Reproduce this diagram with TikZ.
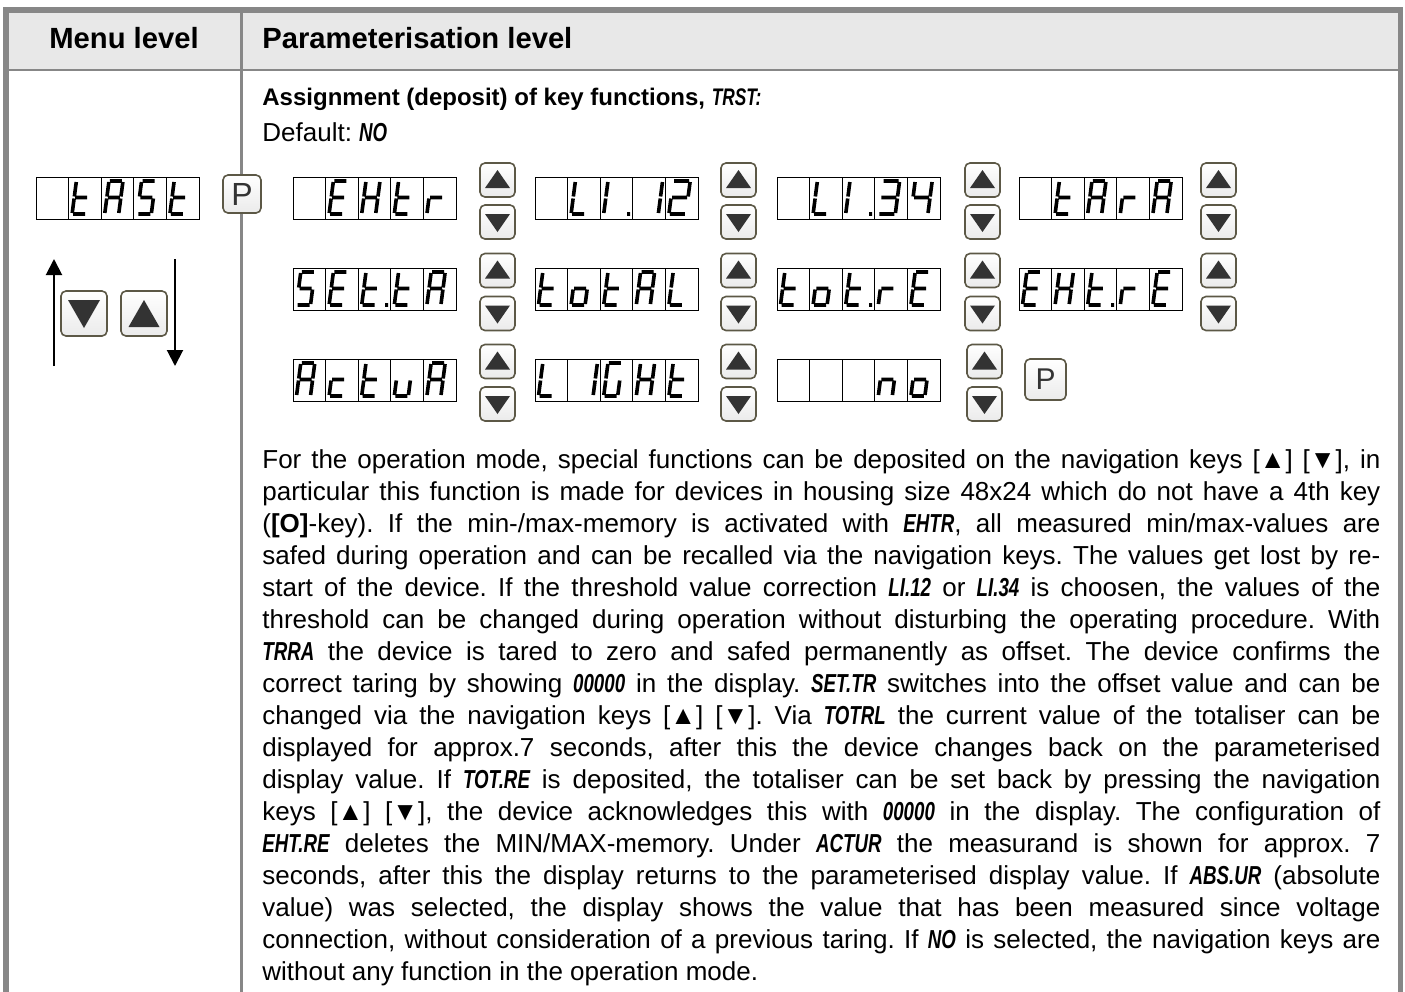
\documentclass[tikz,border=0pt]{standalone}
\usepackage{fontspec}
\setmainfont{Liberation Sans}
\newfontfamily\dispfont[FakeStretch=0.72]{Liberation Sans}
\usetikzlibrary{arrows.meta}

\definecolor{framegray}{RGB}{135,135,135}
\definecolor{headfill}{RGB}{232,232,232}
\definecolor{keyedge}{RGB}{92,88,70}
\definecolor{keytri}{RGB}{51,51,51}

\newcommand{\dsp}[1]{{\dispfont\bfseries\itshape #1}}
\def\segw{14}

\tikzset{
  headtext/.style={font=\fontsize{14.6}{17}\selectfont\bfseries, inner sep=0},
  bodytext/.style={text width=559pt, align=justify, inner sep=0,
    font=\fontsize{13}{16}\selectfont},
  disp/.style={draw, line width=0.5pt, fill=white, inner sep=0,
    minimum width=81.5pt, minimum height=21pt},
  dispedge/.style={line width=0.5pt},
  keybox/.style={draw=keyedge, line width=0.8pt, rounded corners=2.5pt,
    top color=white, bottom color=black!8, inner sep=0,
    minimum width=17.5pt, minimum height=17pt},
  navarrow/.style={line width=1pt, -{Triangle[width=8pt,length=8pt]}},
  % seven segment parts, glyph origin = lower left
  segline/.style={line width=1.8pt},
  sw/.code={\def\segw{#1}},
  seg a/.style={insert path={(1,-33) -- (\segw-1,-33)}},
  seg b/.style={insert path={(\segw,-32) -- (\segw,-17.5)}},
  seg c/.style={insert path={(\segw,-15.5) -- (\segw,-1)}},
  seg d/.style={insert path={(1,0) -- (\segw-1,0)}},
  seg e/.style={insert path={(0,-1) -- (0,-15.5)}},
  seg f/.style={insert path={(0,-17.5) -- (0,-32)}},
  seg g/.style={insert path={(1,-16.5) -- (\segw-1,-16.5)}},
  dp/.style={insert path={(23.5,0) -- (26.5,0)}},
  % glyphs
  sg blank/.style={},
  sg t/.style={seg d,seg e,seg f,seg g},
  sg tp/.style={sg t,dp},
  sg A/.style={seg a,seg b,seg c,seg e,seg f,seg g},
  sg S/.style={seg a,seg f,seg g,seg c,seg d},
  sg E/.style={seg a,seg d,seg e,seg f,seg g},
  sg H/.style={seg b,seg c,seg e,seg f,seg g},
  sg r/.style={seg e,seg g},
  sg L/.style={seg d,seg e,seg f},
  sg I/.style={seg e,seg f},
  sg Ip/.style={sg I,dp},
  sg 1/.style={sw=22,seg b,seg c},
  sg 2/.style={sw=17,seg a,seg b,seg g,seg e,seg d},
  sg 3/.style={sw=17,seg a,seg b,seg g,seg c,seg d},
  sg 4/.style={sw=17,seg f,seg g,seg b,seg c},
  sg o/.style={seg c,seg d,seg e,seg g},
  sg c/.style={seg d,seg e,seg g},
  sg u/.style={seg c,seg d,seg e},
  sg G/.style={seg a,seg c,seg d,seg e,seg f},
  sg n/.style={seg c,seg e,seg g}
}

% display with five cells: name, left x, top y, glyphs
\newcommand{\segdisp}[4]{%
  \node[disp, anchor=north west] (#1) at (#2,#3) {};
  \foreach \k in {1,...,4}
    \draw[dispedge] (#2+\k*32.6,#3) -- ++(0,42);
  \foreach \g [count=\k] in {#4} {
    \begin{scope}[shift={(#2+\k*32.6-29.1,#3+37)}, xslant=0.13]
      \draw[segline, sg \g];
    \end{scope}}
}

\newcommand{\upkey}[3]{%
  \node[keybox] (#1) at (#2,#3) {};
  \fill[keytri] (#1.center) ++(-12.5,8) -- ++(25,0) -- ++(-12.5,-18) -- cycle;}
\newcommand{\downkey}[3]{%
  \node[keybox] (#1) at (#2,#3) {};
  \fill[keytri] (#1.center) ++(-12.5,-8) -- ++(25,0) -- ++(-12.5,18) -- cycle;}

\begin{document}
\frenchspacing
\begin{tikzpicture}[x=0.5pt, y=-0.5pt]
\useasboundingbox (0,0) rectangle (1405,992);
\fill[white] (0,0) rectangle (1405,992);

% table frame
\fill[headfill] (5.8,10) rectangle (1400.5,70);
\draw[framegray, line width=1pt] (5.8,70) -- (1400.5,70);
\draw[framegray, line width=1.4pt] (241.7,10) -- (241.7,992);
\draw[framegray, line width=2.7pt] (5.8,992) -- (5.8,10) -- (1400.5,10) -- (1400.5,992);

\node[headtext] (menuhead) at (124,38) {Menu level};
\node[headtext, anchor=west] (parahead) at (262,38) {Parameterisation level};

% menu level
\segdisp{tast}{36}{177}{blank,t,A,S,t}
\node[keybox, minimum width=19pt, minimum height=19pt,
  font=\fontsize{16}{16}\selectfont, text=keytri] (pkeya) at (242,194) {P};

\node[keybox, minimum width=23pt, minimum height=22.5pt] (navdn) at (84,313.5) {};
\node[keybox, minimum width=23pt, minimum height=22.5pt] (navup) at (144,313.5) {};
\fill[keytri] (navdn.center) ++(-16,-13.5) -- ++(32,0) -- ++(-16,28) -- cycle;
\fill[keytri] (navup.center) ++(-15.5,13.5) -- ++(31,0) -- ++(-15.5,-27) -- cycle;

\coordinate (upfrom) at (54,366);
\coordinate (upto) at (54,259);
\coordinate (dnfrom) at (175,259);
\coordinate (dnto) at (175,366);
\draw[navarrow] (upfrom) -- (upto);
\draw[navarrow] (dnfrom) -- (dnto);

% parameterisation level
\node[anchor=base west, inner sep=0, font=\fontsize{12}{15}\selectfont\bfseries]
  (title) at (262,105.5) {Assignment (deposit) of key functions, {\dispfont\itshape TRST:}};
\node[anchor=base west, inner sep=0, font=\fontsize{13}{16}\selectfont]
  (default) at (262,141) {Default: \dsp{NO}};

\segdisp{extr}{293}{177}{blank,E,H,t,r}
\segdisp{lione}{535}{177}{blank,L,Ip,1,2}
\segdisp{litwo}{777}{177}{blank,L,Ip,3,4}
\segdisp{tara}{1019}{177}{blank,t,A,r,A}
\segdisp{setta}{293}{268}{S,E,tp,t,A}
\segdisp{total}{535}{268}{t,o,t,A,L}
\segdisp{totre}{777}{268}{t,o,tp,r,E}
\segdisp{extre}{1019}{268}{E,H,tp,r,E}
\segdisp{actua}{293}{359}{A,c,t,u,A}
\segdisp{light}{535}{359}{L,1,G,H,t}
\segdisp{no}{777}{359}{blank,blank,blank,n,o}

\foreach \cx [count=\c] in {497.5,738.5,982.5,1218.5} {
  \upkey{upa\c}{\cx}{180}
  \downkey{dna\c}{\cx}{222}
  \upkey{upb\c}{\cx}{270.5}
  \downkey{dnb\c}{\cx}{313.5}
}
\foreach \cx [count=\c] in {497.5,738.5,984.5} {
  \upkey{upc\c}{\cx}{361.5}
  \downkey{dnc\c}{\cx}{404}
}
\node[keybox, minimum width=20.5pt, minimum height=20.5pt,
  font=\fontsize{15}{15}\selectfont, text=keytri] (pkeyb) at (1045.5,379.5) {P};

\node[bodytext, anchor=base west] (body) at (262,468) {%
For the operation mode, special functions can be deposited on the navigation keys [▲] [▼], in\linebreak
particular this function is made for devices in housing size 48x24 which do not have a 4th key\linebreak
(\textbf{[O]}-key). If the min-/max-memory is activated with \dsp{EHTR}, all measured min/max-values are\linebreak
safed during operation and can be recalled via the navigation keys. The values get lost by re-\linebreak
start of the device. If the threshold value correction \dsp{LI.12} or \dsp{LI.34} is choosen, the values of the\linebreak
threshold can be changed during operation without disturbing the operating procedure. With\linebreak
\dsp{TRRA} the device is tared to zero and safed permanently as offset. The device confirms the\linebreak
correct taring by showing \dsp{00000} in the display. \dsp{SET.TR} switches into the offset value and can be\linebreak
changed via the navigation keys [▲] [▼]. Via \dsp{TOTRL} the current value of the totaliser can be\linebreak
displayed for approx.7 seconds, after this the device changes back on the parameterised\linebreak
display value. If \dsp{TOT.RE} is deposited, the totaliser can be set back by pressing the navigation\linebreak
keys [▲] [▼], the device acknowledges this with \dsp{00000} in the display. The configuration of\linebreak
\dsp{EHT.RE} deletes the MIN/MAX-memory. Under \dsp{ACTUR} the measurand is shown for approx.~7\linebreak
seconds, after this the display returns to the parameterised display value. If \dsp{ABS.UR} (absolute\linebreak
value) was selected, the display shows the value that has been measured since voltage\linebreak
connection, without consideration of a previous taring. If \dsp{NO} is selected, the navigation keys are\linebreak
without any function in the operation mode.};
\end{tikzpicture}
\end{document}
